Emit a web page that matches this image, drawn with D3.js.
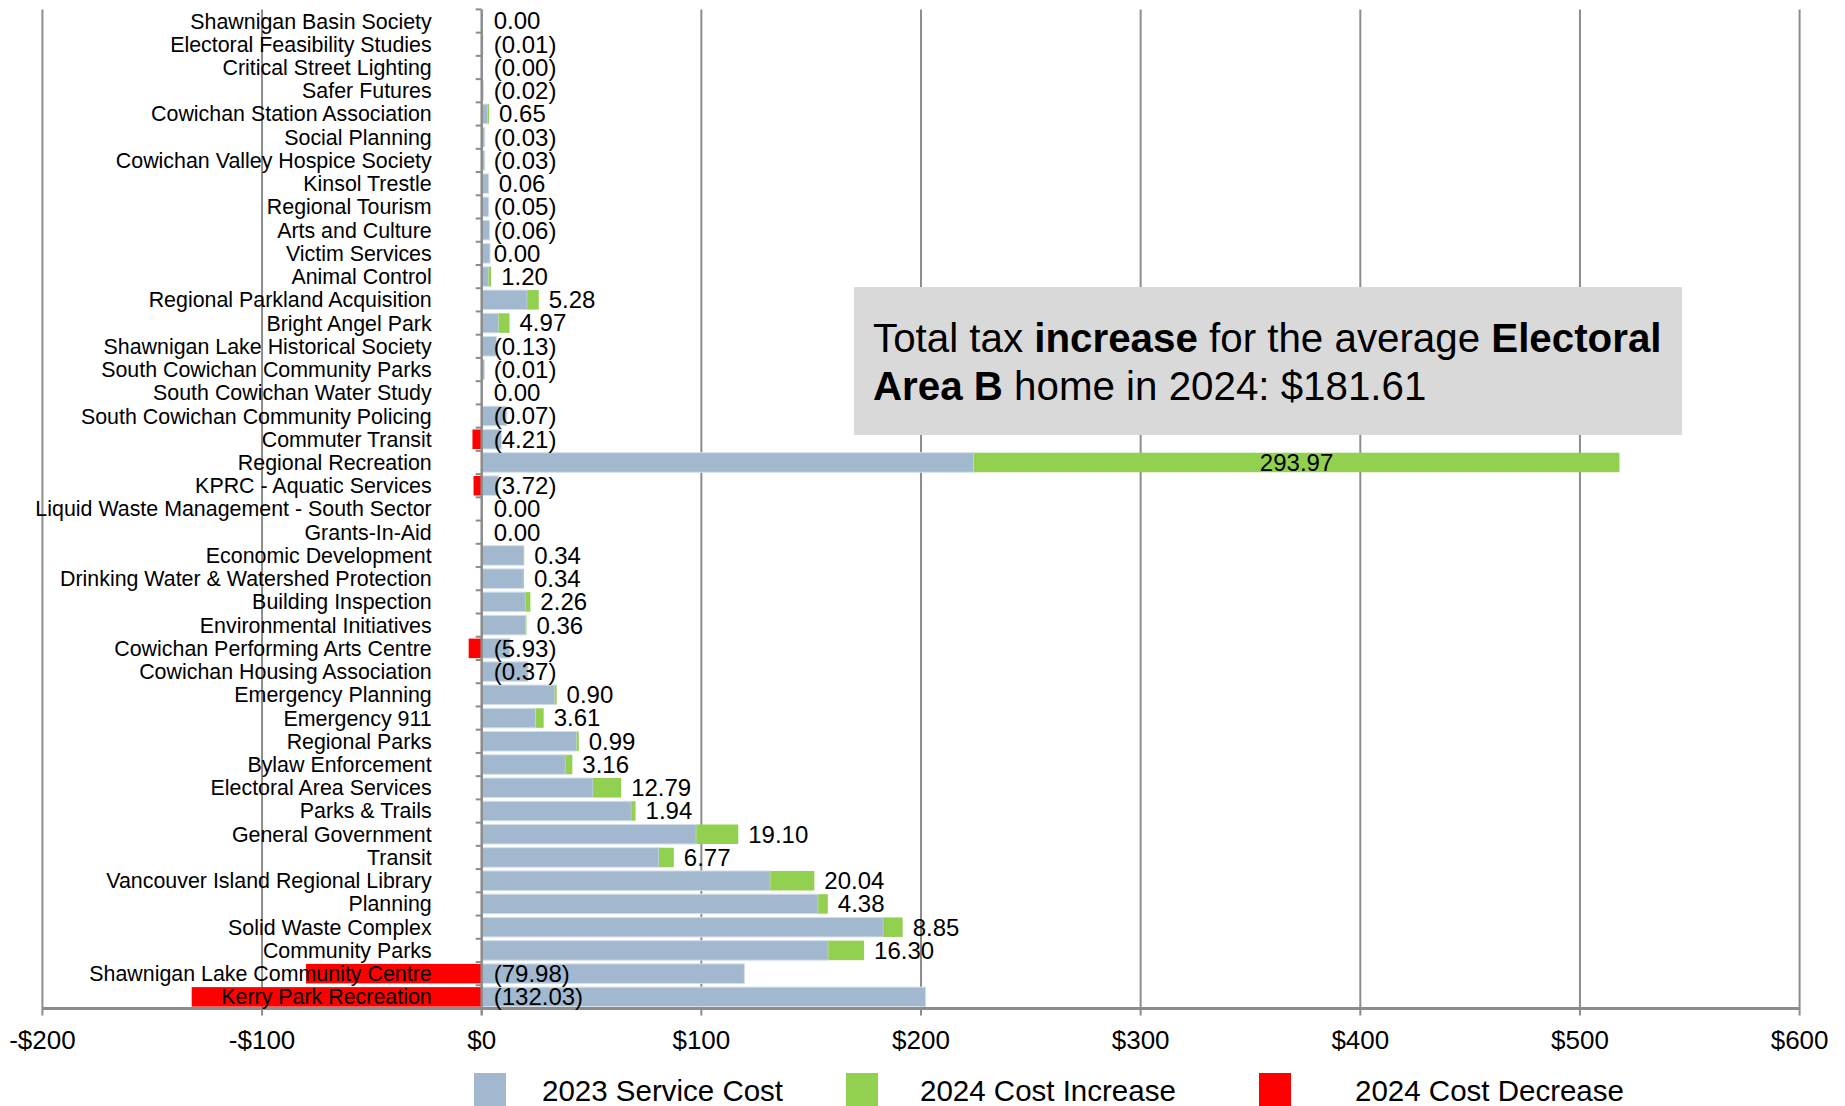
<!DOCTYPE html>
<html lang="en">
<head>
    <meta charset="UTF-8">
    <title>Electoral Area B - 2024 Tax Changes</title>
    <script src="https://d3js.org/d3.v7.min.js"></script>
    <style>
        body {
            margin: 0;
            background-color: #ffffff;
            font-family: "Liberation Sans", Arial, sans-serif;
        }
        .cat-label {
            font-size: 21.4px;
            fill: #000000;
        }
        .val-label {
            font-size: 24px;
            fill: #000000;
        }
        .tick-label {
            font-size: 26px;
            fill: #000000;
        }
        .legend-label {
            font-size: 29.5px;
            fill: #000000;
        }
        .note {
            font-size: 40.3px;
            fill: #000000;
        }
    </style>
</head>
<body>
    <svg id="chart"></svg>

    <script>
        const categories = [
            "Shawnigan Basin Society", "Electoral Feasibility Studies", "Critical Street Lighting",
            "Safer Futures", "Cowichan Station Association", "Social Planning",
            "Cowichan Valley Hospice Society", "Kinsol Trestle", "Regional Tourism",
            "Arts and Culture", "Victim Services", "Animal Control",
            "Regional Parkland Acquisition", "Bright Angel Park", "Shawnigan Lake Historical Society",
            "South Cowichan Community Parks", "South Cowichan Water Study", "South Cowichan Community Policing",
            "Commuter Transit", "Regional Recreation", "KPRC - Aquatic Services",
            "Liquid Waste Management - South Sector", "Grants-In-Aid", "Economic Development",
            "Drinking Water & Watershed Protection", "Building Inspection", "Environmental Initiatives",
            "Cowichan Performing Arts Centre", "Cowichan Housing Association", "Emergency Planning",
            "Emergency 911", "Regional Parks", "Bylaw Enforcement",
            "Electoral Area Services", "Parks & Trails", "General Government",
            "Transit ", "Vancouver Island Regional Library", "Planning",
            "Solid Waste Complex", "Community Parks", "Shawnigan Lake Community Centre",
            "Kerry Park Recreation"
        ];

        // 2023 service cost (blue bars)
        const cost2023 = [
            0.2, 0.5, 0.3, 0.8, 2.7, 1.4,
            1.4, 3.1, 3.2, 3.6, 3.8, 3.1,
            20.7, 7.7, 6.7, 1.3, 0, 11.4,
            9.0, 224.0, 7.5, 0, 0, 19.0,
            18.9, 19.9, 20.0, 12.9, 21.1, 33.2,
            24.6, 43.2, 38.1, 50.7, 68.1, 97.7,
            80.7, 131.4, 153.2, 182.8, 157.8, 119.6,
            202.1
        ];

        // 2024 change (labels); positive = increase, negative = decrease
        const change2024 = [
            0.00, -0.01, -0.001, -0.02, 0.65, -0.03,
            -0.03, 0.06, -0.05, -0.06, 0.00, 1.20,
            5.28, 4.97, -0.13, -0.01, 0.00, -0.07,
            -4.21, 293.97, -3.72, 0.00, 0.00, 0.34,
            0.34, 2.26, 0.36, -5.93, -0.37, 0.90,
            3.61, 0.99, 3.16, 12.79, 1.94, 19.10,
            6.77, 20.04, 4.38, 8.85, 16.30, -79.98,
            -132.03
        ];

        const xTicks = [-200, -100, 0, 100, 200, 300, 400, 500, 600];

        const seriesNames = ["2023 Service Cost", "2024 Cost Increase", "2024 Cost Decrease"];
        const seriesColors = ["#a1b8cf", "#92d050", "#ff0000"];

        const width = 1845;
        const height = 1106;

        const rows = categories.map((c, i) => ({
            name: c,
            cost: cost2023[i],
            change: change2024[i]
        }));

        const svg = d3.select("#chart")
            .attr("width", width)
            .attr("height", height);

        const x = d3.scaleLinear()
            .domain([-200, 600])
            .range([42.4, 1799.6]);

        const y = d3.scaleBand()
            .domain(categories)
            .range([9.4, 1008.5])
            .paddingInner(0.16)
            .paddingOuter(0.08);

        const step = y.step();
        const plotTop = y.range()[0];
        const plotBottom = y.range()[1];

        // vertical gridlines
        svg.append("g")
            .selectAll("line")
            .data(xTicks.filter(t => t !== 0))
          .enter().append("line")
            .attr("x1", d => x(d))
            .attr("x2", d => x(d))
            .attr("y1", plotTop)
            .attr("y2", plotBottom + 7)
            .attr("stroke", "#8c8c8c")
            .attr("stroke-width", 2);

        // note box sits over the gridlines
        const note = svg.append("g");
        note.append("rect")
            .attr("x", 854)
            .attr("y", 287)
            .attr("width", 828)
            .attr("height", 148)
            .attr("fill", "#d9d9d9");

        const line1 = note.append("text")
            .attr("class", "note")
            .attr("x", 873)
            .attr("y", 352);
        line1.append("tspan").text("Total tax ");
        line1.append("tspan").attr("font-weight", "bold").text("increase");
        line1.append("tspan").text(" for the average ");
        line1.append("tspan").attr("font-weight", "bold").text("Electoral");

        const line2 = note.append("text")
            .attr("class", "note")
            .attr("x", 873)
            .attr("y", 400);
        line2.append("tspan").attr("font-weight", "bold").text("Area B");
        line2.append("tspan").text(" home in 2024: $181.61");

        // bars
        const barG = svg.append("g");

        barG.selectAll(".cost")
            .data(rows)
          .enter().append("rect")
            .attr("class", "cost")
            .attr("x", x(0))
            .attr("y", d => y(d.name))
            .attr("width", d => x(d.cost) - x(0))
            .attr("height", y.bandwidth())
            .attr("fill", seriesColors[0])
            .attr("stroke", "#d3dfeb")
            .attr("stroke-width", d => d.cost > 0 ? 1 : 0);

        barG.selectAll(".inc")
            .data(rows.filter(d => d.change > 0))
          .enter().append("rect")
            .attr("class", "inc")
            .attr("x", d => x(d.cost))
            .attr("y", d => y(d.name))
            .attr("width", d => x(d.cost + d.change) - x(d.cost))
            .attr("height", y.bandwidth())
            .attr("fill", seriesColors[1]);

        barG.selectAll(".dec")
            .data(rows.filter(d => d.change < 0))
          .enter().append("rect")
            .attr("class", "dec")
            .attr("x", d => x(d.change))
            .attr("y", d => y(d.name))
            .attr("width", d => x(0) - x(d.change))
            .attr("height", y.bandwidth())
            .attr("fill", seriesColors[2]);

        // zero axis with small ticks on row boundaries
        svg.append("line")
            .attr("x1", x(0))
            .attr("x2", x(0))
            .attr("y1", plotTop)
            .attr("y2", plotBottom + 7)
            .attr("stroke", "#8c8c8c")
            .attr("stroke-width", 2.5);

        svg.append("g")
            .selectAll("line")
            .data(d3.range(categories.length))
          .enter().append("line")
            .attr("x1", x(0) - 6)
            .attr("x2", x(0))
            .attr("y1", i => plotTop + i * step)
            .attr("y2", i => plotTop + i * step)
            .attr("stroke", "#8c8c8c")
            .attr("stroke-width", 2);

        // bottom axis
        svg.append("line")
            .attr("x1", x(-200))
            .attr("x2", x(600))
            .attr("y1", plotBottom)
            .attr("y2", plotBottom)
            .attr("stroke", "#8c8c8c")
            .attr("stroke-width", 3);

        svg.append("g")
            .selectAll("text")
            .data(xTicks)
          .enter().append("text")
            .attr("class", "tick-label")
            .attr("x", d => x(d))
            .attr("y", 1049)
            .attr("text-anchor", "middle")
            .text(d => (d < 0 ? "-$" : "$") + Math.abs(d));

        // category labels
        svg.append("g")
            .selectAll("text")
            .data(rows)
          .enter().append("text")
            .attr("class", "cat-label")
            .attr("x", x(0) - 50)
            .attr("y", d => y(d.name) + y.bandwidth() / 2)
            .attr("dy", "0.35em")
            .attr("text-anchor", "end")
            .text(d => d.name);

        // value labels
        const fmt = d3.format(".2f");
        svg.append("g")
            .selectAll("text")
            .data(rows)
          .enter().append("text")
            .attr("class", "val-label")
            .attr("x", d => {
                if (d.change > 0) {
                    const segW = x(d.cost + d.change) - x(d.cost);
                    if (segW > 150) return (x(d.cost) + x(d.cost + d.change)) / 2;
                    return x(d.cost + d.change) + 10;
                }
                return x(0) + 12;
            })
            .attr("text-anchor", d => (x(d.cost + d.change) - x(d.cost) > 150) ? "middle" : "start")
            .attr("y", d => y(d.name) + y.bandwidth() / 2)
            .attr("dy", "0.35em")
            .text(d => d.change < 0 ? "(" + fmt(Math.abs(d.change)) + ")" : fmt(d.change));

        // legend
        const legendX = [474, 846, 1259];
        const legendTextX = [542, 920, 1355];
        const legend = svg.append("g");
        seriesNames.forEach((name, i) => {
            legend.append("rect")
                .attr("x", legendX[i])
                .attr("y", 1073)
                .attr("width", 32)
                .attr("height", 33)
                .attr("fill", seriesColors[i]);
            legend.append("text")
                .attr("class", "legend-label")
                .attr("x", legendTextX[i])
                .attr("y", 1101)
                .text(name);
        });
    </script>
</body>
</html>
